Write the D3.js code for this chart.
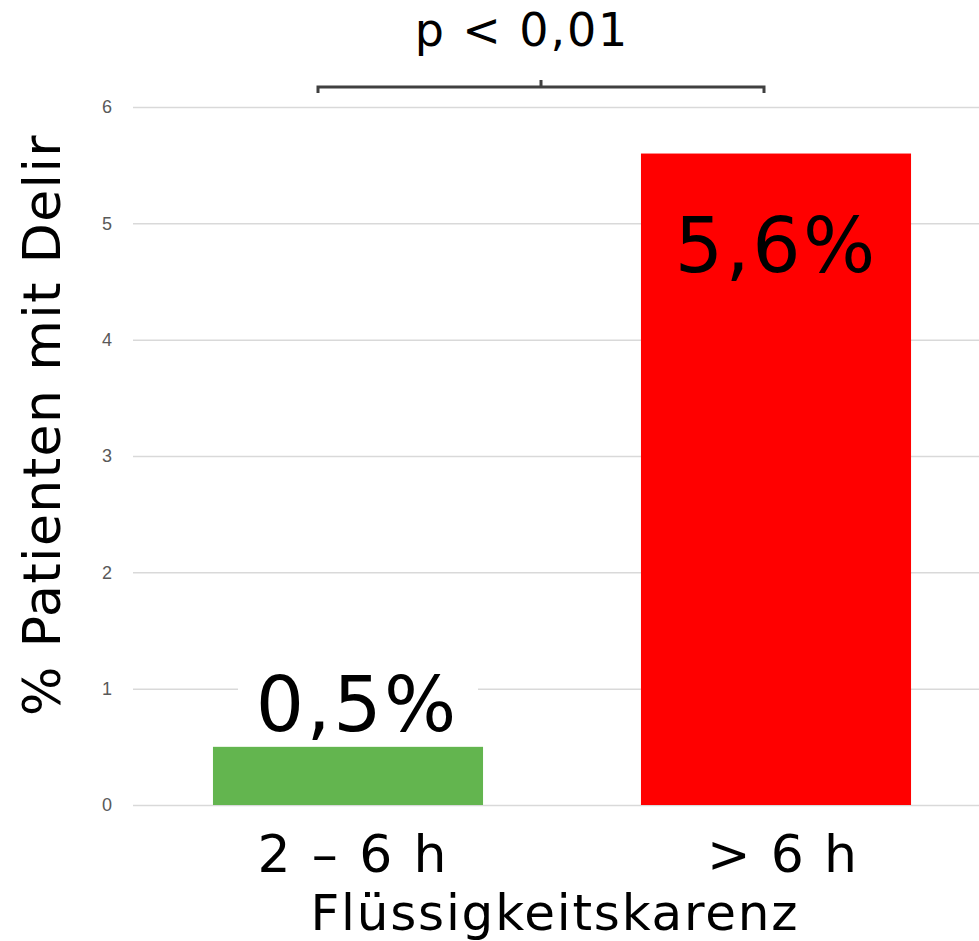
<!DOCTYPE html>
<html>
<head>
<meta charset="utf-8">
<script src="https://cdn.jsdelivr.net/npm/d3@7"></script>
<style>
  html, body { margin: 0; padding: 0; background: #fff; }
  svg { display: block; font-family: Verdana, "DejaVu Sans", sans-serif; }
</style>
</head>
<body>
<svg id="chart" width="979" height="941"></svg>
<script>
// Delir-Rate nach Dauer der Flüssigkeitskarenz
const categories = ["2 – 6 h", "> 6 h"];
const values = [0.5, 5.6];
const valueLabels = ["0,5%", "5,6%"];
const barColors = ["#63b54f", "#ff0000"];
const yTicks = [0, 1, 2, 3, 4, 5, 6];
const yTitle = "% Patienten mit Delir";
const xTitle = "Flüssigkeitskarenz";
const pLabel = "p < 0,01";

const svg = d3.select("#chart");

// zentrierter Text mit Zeichenabstand (Ausgleich des nachlaufenden Abstands)
function centeredText(sel, x, y, size, spacing, str) {
  return sel.append("text")
    .attr("x", x + spacing / 2)
    .attr("y", y)
    .attr("text-anchor", "middle")
    .attr("fill", "#000")
    .style("font-size", size + "px")
    .style("letter-spacing", spacing + "px")
    .text(str);
}

const y = d3.scaleLinear().domain([0, 6]).range([805, 107]);
const x = d3.scaleBand()
  .domain(categories)
  .range([134, 990])
  .paddingInner(0.369)
  .paddingOuter(0.1845);

// Gitterlinien und Achsenbeschriftung
const yAxis = d3.axisLeft(y)
  .tickValues(yTicks)
  .tickSize(-(979 - 133))
  .tickPadding(21)
  .tickFormat(d3.format("d"));

const gy = svg.append("g")
  .attr("transform", "translate(133,0)")
  .call(yAxis);
gy.select(".domain").remove();
gy.selectAll(".tick line").attr("stroke", "#d9d9d9").attr("stroke-width", 1.5);
gy.selectAll(".tick text")
  .attr("fill", "#595959")
  .style("font-family", "'Liberation Sans', Arial, sans-serif")
  .style("font-size", "18px");

// Balken
svg.append("g").selectAll("rect")
  .data(categories)
  .join("rect")
  .attr("x", d => x(d))
  .attr("width", x.bandwidth())
  .attr("y", (d, i) => y(values[i]))
  .attr("height", (d, i) => y(0) - y(values[i]))
  .attr("fill", (d, i) => barColors[i]);

// Wertbeschriftungen: kleiner Wert über dem Balken (mit weißem Hintergrund), großer Wert im Balken
const labels = svg.append("g");
categories.forEach((c, i) => {
  const cx = x(c) + x.bandwidth() / 2;
  const inside = values[i] > 2;
  const baseline = inside ? y(values[i]) + 118 : y(values[i]) - 16;
  const g = labels.append("g");
  if (!inside) {
    g.append("rect")
      .attr("x", cx - 110)
      .attr("y", baseline - 62)
      .attr("width", 240)
      .attr("height", 70)
      .attr("fill", "#fff");
  }
  centeredText(g, inside ? cx - 1 : cx + 8, baseline, 76, 2.5, valueLabels[i]);
});

// Kategorienbeschriftung
const catOffsets = [4, 6];
const catSpacing = [2.4, 1.8];
categories.forEach((c, i) => {
  centeredText(svg, x(c) + x.bandwidth() / 2 + catOffsets[i], 872, 52, catSpacing[i], c);
});

// Achsentitel
centeredText(svg, 554, 930, 50, 1.8, xTitle);

svg.append("text")
  .attr("transform", "translate(60,425) rotate(-90)")
  .attr("text-anchor", "middle")
  .attr("fill", "#000")
  .style("font-size", "52px")
  .style("letter-spacing", "1.4px")
  .text(yTitle);

// Signifikanzklammer
const bx0 = 318, bx1 = 764, by = 87;
const bmid = (bx0 + bx1) / 2;
svg.append("path")
  .attr("d", `M${bx0},${by + 6} L${bx0},${by} L${bx1},${by} L${bx1},${by + 6} M${bmid},${by} L${bmid},${by - 7}`)
  .attr("fill", "none")
  .attr("stroke", "#404040")
  .attr("stroke-width", 3);

centeredText(svg, bmid - 20, 46, 46, 1.9, pLabel);
</script>
</body>
</html>
